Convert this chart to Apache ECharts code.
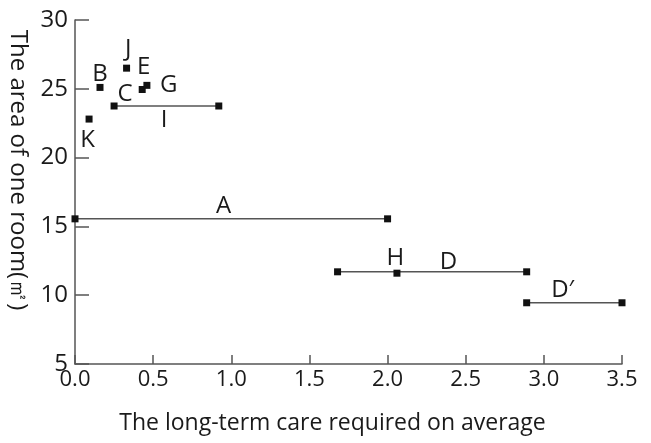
<!DOCTYPE html>
<html><head><meta charset="utf-8">
<script src="https://cdn.jsdelivr.net/npm/echarts@6/dist/echarts.min.js"></script>
<style>html,body{margin:0;padding:0;background:#fff}#c{width:651px;height:443px}</style>
</head><body><div id="c"></div>
<script>
// Single points: [x, y]
const pointNames = ['J', 'B', 'E', 'G', 'K'];
const pointValues = [[0.33, 26.5], [0.16, 25.1], [0.43, 24.95], [0.46, 25.25], [0.09, 22.8]];
// Ranges: name, y, x points along the range
const rangeNames = ['I', 'A', 'D', "D\u2032"];
const rangeY = [23.75, 15.55, 11.7, 9.45];
const rangeX = [[0.25, 0.92], [0.0, 2.0], [1.68, 2.89], [2.89, 3.5]];
// Extra point H lies on the D range
const hPoint = [2.06, 11.6];
// Label anchor positions (data coords) for the letters
const labelNames = ['J', 'E', 'B', 'C', 'G', 'I', 'K', 'A', 'H', 'D', "D\u2032"];
const labelPos = [[0.34, 27.9], [0.44, 26.6], [0.16, 26.1], [0.32, 24.6], [0.60, 25.3], [0.57, 22.7], [0.08, 21.3], [0.95, 16.5], [2.05, 12.7], [2.39, 12.4], [3.12, 10.4]];
const xTicks = [0, 0.5, 1, 1.5, 2, 2.5, 3, 3.5];
const yTicks = [5, 10, 15, 20, 25, 30];

const FONT = 'Open Sans';
const series = [];
rangeNames.forEach((n, i) => {
  series.push({
    type: 'line', name: n, data: rangeX[i].map(x => [x, rangeY[i]]),
    symbol: 'rect', symbolSize: 7, showSymbol: true,
    lineStyle: { color: '#555', width: 1.5 },
    itemStyle: { color: '#111', opacity: 1 }, z: 3, silent: true
  });
});
series.push({
  type: 'scatter', data: pointValues.concat([hPoint]), symbol: 'rect', symbolSize: 7,
  itemStyle: { color: '#111', opacity: 1 }, z: 4, silent: true
});
series.push({
  type: 'scatter', data: labelPos.map((p, i) => ({ value: p, name: labelNames[i] })),
  symbolSize: 0, silent: true, itemStyle: { opacity: 1 },
  label: { show: true, position: 'inside', formatter: p => p.name, color: '#1a1a1a', fontSize: 24, fontFamily: FONT }
});

const chart = echarts.init(document.getElementById('c'), null, { renderer: 'canvas' });
chart.setOption({
  animation: false,
  backgroundColor: '#fff',
  grid: { left: 75, top: 20, right: 29, bottom: 79, containLabel: false, outerBoundsMode: 'none' },
  xAxis: {
    type: 'value', min: 0, max: 3.5, interval: 0.5,
    name: 'The long-term care required on average', nameLocation: 'middle', nameGap: 48,
    nameTextStyle: { fontSize: 23, color: '#1a1a1a', fontFamily: FONT, padding: [0, 32, 0, 0] },
    axisLine: { show: true, lineStyle: { color: '#555', width: 1.5 } },
    axisTick: { show: true, inside: true, length: 9, lineStyle: { color: '#555', width: 1.5 } },
    axisLabel: { fontSize: 22, color: '#1a1a1a', fontFamily: FONT, margin: 5, formatter: v => v.toFixed(1) },
    splitLine: { show: false }
  },
  yAxis: {
    type: 'value', min: 5, max: 30, interval: 5,
    name: 'The area of one room(\u33A1)', nameLocation: 'middle', nameGap: 45, nameRotate: -90,
    nameTextStyle: { fontSize: 24, color: '#1a1a1a', fontFamily: FONT, padding: [0, 44, 0, 0] },
    axisLine: { show: true, lineStyle: { color: '#555', width: 1.5 } },
    axisTick: { show: true, inside: true, length: 14, lineStyle: { color: '#555', width: 1.5 } },
    axisLabel: { fontSize: 24, color: '#1a1a1a', fontFamily: FONT, margin: 7 },
    splitLine: { show: false }
  },
  series: series
});
</script></body></html>
